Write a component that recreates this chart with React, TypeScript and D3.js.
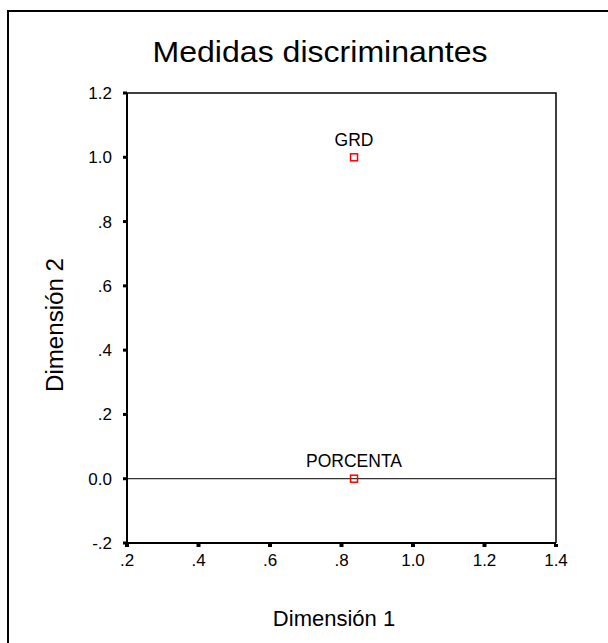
import * as d3 from 'd3'
import { useEffect, useRef } from 'react'

const variables = ['GRD', 'PORCENTA']
const dim1 = [0.835, 0.835]
const dim2 = [1.0, 0.0]
const xTicks = [0.2, 0.4, 0.6, 0.8, 1.0, 1.2, 1.4]
const yTicks = [-0.2, 0.0, 0.2, 0.4, 0.6, 0.8, 1.0, 1.2]

const fmt = (v: number) => {
  if (Math.abs(v) < 1e-9) return '0.0'
  if (Math.abs(v) >= 1) return v.toFixed(1)
  return (v < 0 ? '-' : '') + Math.abs(v).toFixed(1).replace(/^0/, '')
}

export default function App() {
  const svgRef = useRef<SVGSVGElement | null>(null)

  useEffect(() => {
    if (!svgRef.current) return
    const svg = d3.select(svgRef.current)
    svg.selectAll('*').remove()

    const font = 'Liberation Sans, Arial, sans-serif'
    const left = 127, right = 556, top = 93, bottom = 543

    const x = d3.scaleLinear().domain([0.2, 1.4]).range([left, right])
    const y = d3.scaleLinear().domain([-0.2, 1.2]).range([bottom, top])

    // outer frame (only top and left visible)
    svg.append('path')
      .attr('d', `M8,650 L8,11 L620,11`)
      .attr('fill', 'none')
      .attr('stroke', '#000')
      .attr('stroke-width', 2)

    svg.append('text')
      .attr('x', 320)
      .attr('y', 62)
      .attr('text-anchor', 'middle')
      .attr('font-family', font)
      .attr('font-size', 30)
      .attr('textLength', 335)
      .attr('lengthAdjust', 'spacingAndGlyphs')
      .text('Medidas discriminantes')

    // zero reference line
    svg.append('line')
      .attr('x1', left).attr('x2', right)
      .attr('y1', y(0)).attr('y2', y(0))
      .attr('stroke', '#000')
      .attr('stroke-width', 1)

    // plot frame
    svg.append('path')
      .attr('d', `M${left},${top} L${right},${top} L${right},${bottom}`)
      .attr('fill', 'none')
      .attr('stroke', '#000')
      .attr('stroke-width', 1.5)
    svg.append('path')
      .attr('d', `M${left},${top} L${left},${bottom} L${right},${bottom}`)
      .attr('fill', 'none')
      .attr('stroke', '#000')
      .attr('stroke-width', 2)

    // y ticks
    svg.selectAll('rect.yt')
      .data(yTicks)
      .join('rect')
      .attr('class', 'yt')
      .attr('x', left - 4)
      .attr('y', (d) => y(d) - 1.5)
      .attr('width', 4)
      .attr('height', 3)
      .attr('fill', '#000')
    svg.selectAll('text.yl')
      .data(yTicks)
      .join('text')
      .attr('class', 'yl')
      .attr('x', 112)
      .attr('y', (d) => y(d) + 6)
      .attr('text-anchor', 'end')
      .attr('font-family', font)
      .attr('font-size', 17)
      .text((d) => fmt(d))

    // x ticks
    svg.selectAll('rect.xt')
      .data(xTicks)
      .join('rect')
      .attr('class', 'xt')
      .attr('x', (d) => x(d) - 2)
      .attr('y', bottom + 1)
      .attr('width', 4)
      .attr('height', 3)
      .attr('fill', '#000')
    svg.selectAll('text.xl')
      .data(xTicks)
      .join('text')
      .attr('class', 'xl')
      .attr('x', (d) => x(d))
      .attr('y', 566)
      .attr('text-anchor', 'middle')
      .attr('font-family', font)
      .attr('font-size', 17)
      .text((d) => fmt(d))

    // axis titles
    svg.append('text')
      .attr('x', 334)
      .attr('y', 626)
      .attr('text-anchor', 'middle')
      .attr('font-family', font)
      .attr('font-size', 22)
      .text('Dimensión 1')
    svg.append('text')
      .attr('transform', `translate(63,325) rotate(-90)`)
      .attr('text-anchor', 'middle')
      .attr('font-family', font)
      .attr('font-size', 23)
      .attr('textLength', 134)
      .attr('lengthAdjust', 'spacingAndGlyphs')
      .text('Dimensión 2')

    // points
    const pts = variables.map((v, i) => ({ name: v, d1: dim1[i], d2: dim2[i] }))
    svg.selectAll('rect.pt')
      .data(pts)
      .join('rect')
      .attr('class', 'pt')
      .attr('x', (d) => x(d.d1) - 3.5)
      .attr('y', (d) => y(d.d2) - 3.5)
      .attr('width', 7)
      .attr('height', 7)
      .attr('fill', 'none')
      .attr('stroke', '#ff0000')
      .attr('stroke-width', 1.5)
    svg.selectAll('text.pl')
      .data(pts)
      .join('text')
      .attr('class', 'pl')
      .attr('x', (d) => x(d.d1))
      .attr('y', (d) => y(d.d2) - 11.5)
      .attr('text-anchor', 'middle')
      .attr('font-family', font)
      .attr('font-size', 17.5)
      .text((d) => d.name)
  }, [])

  return (
    <svg
      ref={svgRef}
      width={608}
      height={643}
      style={{ position: 'absolute', left: 0, top: 0, background: '#fff' }}
    />
  )
}
